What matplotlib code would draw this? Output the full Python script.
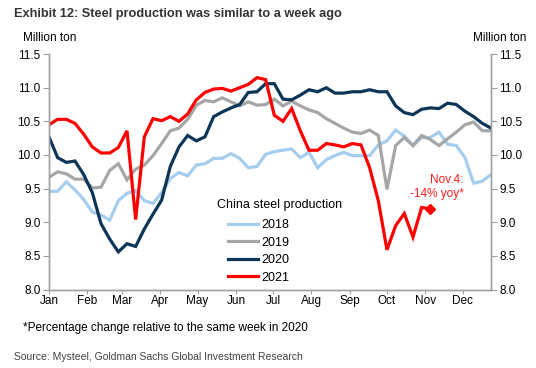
import numpy as np
import matplotlib
matplotlib.use("Agg")
import matplotlib.pyplot as plt

plt.rcParams['font.family'] = ['Liberation Sans', 'DejaVu Sans']

# weekly steel production, million ton (week 0 = first week of Jan)
prod_2018 = [9.46, 9.46, 9.60, 9.48, 9.34, 9.15, 9.11, 9.03, 9.32, 9.43, 9.47, 9.32, 9.28,
             9.44, 9.65, 9.74, 9.69, 9.85, 9.87, 9.95, 9.95, 10.02, 9.95, 9.81, 9.83, 10.01,
             10.05, 10.07, 10.09, 9.96, 10.04, 9.81, 9.93, 9.99, 10.04, 9.99, 9.99, 9.99, 10.15,
             10.21, 10.37, 10.28, 10.14, 10.26, 10.26, 10.34, 10.16, 10.14, 9.96, 9.58, 9.61, 9.71]
prod_2019 = [9.67, 9.75, 9.72, 9.64, 9.64, 9.51, 9.52, 9.77, 9.87, 9.63, 9.79, 9.85, 9.99,
             10.17, 10.36, 10.40, 10.53, 10.74, 10.81, 10.79, 10.85, 10.79, 10.73, 10.79, 10.74, 10.75,
             10.83, 10.73, 10.80, 10.73, 10.67, 10.63, 10.54, 10.47, 10.40, 10.34, 10.32, 10.37, 10.29,
             9.49, 10.14, 10.26, 10.14, 10.29, 10.23, 10.14, 10.24, 10.34, 10.45, 10.49, 10.36, 10.36]
prod_2020 = [10.27, 9.96, 9.89, 9.91, 9.71, 9.44, 8.98, 8.75, 8.56, 8.68, 8.64, 8.90, 9.12,
             9.33, 9.83, 10.12, 10.29, 10.21, 10.27, 10.57, 10.64, 10.70, 10.75, 10.93, 10.94, 11.06,
             11.06, 10.83, 10.82, 10.89, 10.97, 10.94, 11.00, 10.92, 10.92, 10.94, 10.94, 10.97, 10.94,
             10.94, 10.73, 10.63, 10.60, 10.68, 10.70, 10.69, 10.77, 10.75, 10.65, 10.57, 10.47, 10.40]
prod_2021 = [10.45, 10.53, 10.53, 10.47, 10.31, 10.12, 10.03, 10.03, 10.11, 10.36, 9.04, 10.27, 10.54,
             10.51, 10.57, 10.50, 10.61, 10.82, 10.93, 10.98, 10.99, 10.95, 11.00, 11.05, 11.15, 11.12,
             10.59, 10.50, 10.69, 10.36, 10.07, 10.07, 10.17, 10.15, 10.12, 10.17, 10.15, 9.81, 9.32,
             8.59, 8.95, 9.13, 8.78, 9.22, 9.20]

series = [("2018", prod_2018, "#A5CDEE"),
          ("2019", prod_2019, "#A6A6A6"),
          ("2020", prod_2020, "#0C3558"),
          ("2021", prod_2021, "#FF0000")]

months = ["Jan", "Feb", "Mar", "Apr", "May", "Jun", "Jul", "Aug", "Sep", "Oct", "Nov", "Dec"]
month_start_day = [0, 31, 59, 90, 120, 151, 181, 212, 243, 273, 304, 334]

grid_grey = "#A0A0A0"

fig = plt.figure(figsize=(5.36, 3.68), dpi=100)
ax = fig.add_axes([0.0914, 0.2133, 0.8246, 0.6397])

for name, vals, col in series:
    days = np.arange(len(vals)) * 7
    ax.plot(days, vals, color=col, lw=2.3, label=name, solid_joinstyle='miter')

# latest 2021 point
last_day = (len(prod_2021) - 1) * 7
ax.plot([last_day], [prod_2021[-1]], marker='D', ms=5, color="#FF0000")
ax.text(335, 9.52, "Nov.4:\n-14% yoy*", color="#FF2020", fontsize=8.5,
        ha='right', va='center', linespacing=1.2)

ax.set_xlim(0, 357)
ax.set_ylim(8.0, 11.5)
ax.set_yticks(np.arange(8.0, 11.51, 0.5))
ax.set_yticklabels([f"{v:.1f}" for v in np.arange(8.0, 11.51, 0.5)], fontsize=8.5)
ax.set_xticks(month_start_day)
ax.set_xticklabels(months, fontsize=8.5)

ax2 = ax.twinx()
ax2.set_ylim(8.0, 11.5)
ax2.set_yticks(np.arange(8.0, 11.51, 0.5))
ax2.set_yticklabels([f"{v:.1f}" for v in np.arange(8.0, 11.51, 0.5)], fontsize=8.5)

for a in (ax, ax2):
    a.spines['top'].set_visible(False)
    for s in ('left', 'right', 'bottom'):
        a.spines[s].set_color(grid_grey)
        a.spines[s].set_linewidth(1.0)
    a.tick_params(axis='both', color=grid_grey, length=4, width=0.8, pad=2)
ax.tick_params(axis='x', length=3, pad=1)

# legend (title drawn separately so the entries can sit indented)
ax.text(0.38, 0.36, "China steel production", transform=ax.transAxes,
        fontsize=9, va='center', ha='left')
ax.legend(loc='upper left', bbox_to_anchor=(0.405, 0.298), frameon=False,
          fontsize=9, handlelength=2.4, handletextpad=0.25, labelspacing=0.44,
          borderpad=0, borderaxespad=0)

fig.text(0.026, 0.962, "Exhibit 12: Steel production was similar to a week ago",
         fontsize=9.2, fontweight='bold', color="#333333", va='center')
fig.text(0.043, 0.898, "Million ton", fontsize=8.5, va='center')
fig.text(0.982, 0.898, "Million ton", fontsize=8.5, va='center', ha='right')
fig.text(0.043, 0.11, "*Percentage change relative to the same week in 2020", fontsize=8.5, va='center')
fig.text(0.026, 0.03, "Source: Mysteel, Goldman Sachs Global Investment Research",
         fontsize=7.5, color="#404040", va='center')

fig.savefig("out.png", dpi=100)
